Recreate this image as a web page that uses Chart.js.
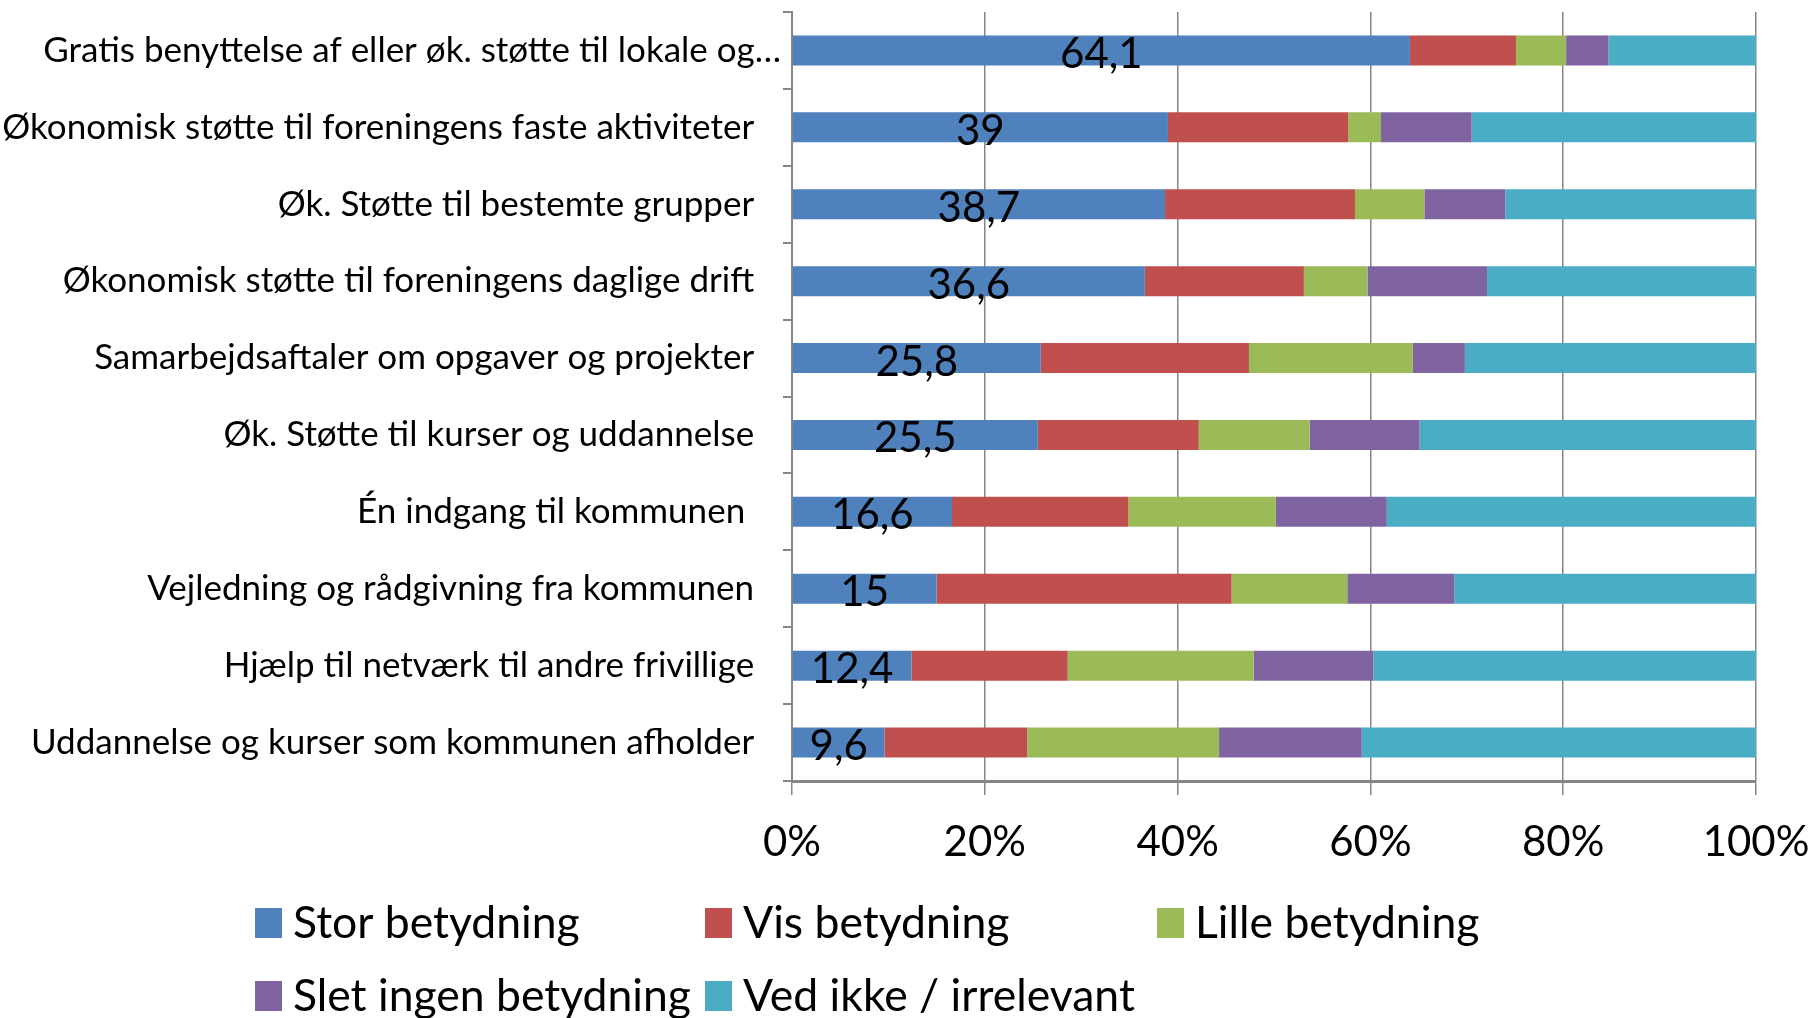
<!DOCTYPE html>
<html>
<head>
<meta charset="utf-8">
<script src="https://cdn.jsdelivr.net/npm/chart.js@4.4.1/dist/chart.umd.min.js"></script>
<style>
    html, body { margin: 0; padding: 0; background: #ffffff; }
    #wrap { width: 1816px; height: 1018px; }
</style>
</head>
<body>
<div id="wrap"><canvas id="canvas-1"></canvas></div>
<script>
var categories = [
    "Gratis benyttelse af eller øk. støtte til lokale og…",
    "Økonomisk støtte til foreningens faste aktiviteter",
    "Øk. Støtte til bestemte grupper",
    "Økonomisk støtte til foreningens daglige drift",
    "Samarbejdsaftaler om opgaver og projekter",
    "Øk. Støtte til kurser og uddannelse",
    "Én indgang til kommunen ",
    "Vejledning og rådgivning fra kommunen",
    "Hjælp til netværk til andre frivillige",
    "Uddannelse og kurser som kommunen afholder"
];
var seriesNames = ["Stor betydning", "Vis betydning", "Lille betydning", "Slet ingen betydning", "Ved ikke / irrelevant"];
var storValues = [64.1, 39, 38.7, 36.6, 25.8, 25.5, 16.6, 15, 12.4, 9.6];
var visValues = [11.0, 18.7, 19.7, 16.5, 21.6, 16.7, 18.3, 30.6, 16.2, 14.8];
var lilleValues = [5.2, 3.4, 7.2, 6.6, 17.0, 11.5, 15.3, 12.0, 19.3, 19.9];
var sletValues = [4.4, 9.4, 8.4, 12.4, 5.4, 11.4, 11.5, 11.1, 12.4, 14.8];
var vedIkkeValues = [15.3, 29.5, 26.0, 27.9, 30.2, 34.9, 38.3, 31.3, 39.7, 40.9];
var xTicks = [0, 20, 40, 60, 80, 100];

(function () {
    'use strict';

    var FONT = "Lato, 'Open Sans', sans-serif";
    var GRID = "#868686";
    var colors = ["#4f81bd", "#c0504d", "#9bbb59", "#8064a2", "#4bacc6"];
    var allValues = [storValues, visValues, lilleValues, sletValues, vedIkkeValues];

    var datasets = [];
    for (var i = 0; i < seriesNames.length; i++) {
        datasets.push({
            label: seriesNames[i],
            data: allValues[i],
            backgroundColor: colors[i],
            borderWidth: 0,
            categoryPercentage: 1,
            barPercentage: 0.39
        });
    }

    // value labels on the blue segment
    var valueLabels = {
        id: 'valueLabels',
        afterDatasetsDraw: function (chart) {
            var ctx = chart.ctx;
            var meta = chart.getDatasetMeta(0);
            ctx.save();
            ctx.font = "42px " + FONT;
            ctx.fillStyle = "#000000";
            ctx.textAlign = "center";
            ctx.textBaseline = "middle";
            meta.data.forEach(function (bar, idx) {
                var txt = String(storValues[idx]).replace('.', ',');
                ctx.fillText(txt, (bar.base + bar.x) / 2, bar.y + 4);
            });
            ctx.restore();
        }
    };

    // legend laid out in a grid like the office chart
    var gridLegend = {
        id: 'gridLegend',
        afterDraw: function (chart) {
            var ctx = chart.ctx;
            var cols = [255, 705, 1157];
            var rows = [923, 996];
            ctx.save();
            ctx.font = "44.5px " + FONT;
            ctx.textAlign = "left";
            ctx.textBaseline = "middle";
            chart.data.datasets.forEach(function (ds, n) {
                var x = cols[n % 3];
                var y = rows[Math.floor(n / 3)];
                ctx.fillStyle = ds.backgroundColor;
                ctx.fillRect(x, y - 15, 27, 30);
                ctx.fillStyle = "#000000";
                ctx.fillText(ds.label, x + 38, y + 1);
            });
            ctx.restore();
        }
    };

    var ctx = document.getElementById('canvas-1');
    //noinspection JSUnusedLocalSymbols
    var chart = new Chart(ctx, {
        type: 'bar',
        data: {
            labels: categories,
            datasets: datasets
        },
        options: {
            indexAxis: 'y',
            responsive: true,
            maintainAspectRatio: false,
            animation: false,
            layout: {
                padding: {top: 12, right: 60, bottom: 0, left: 0}
            },
            plugins: {
                legend: {display: false},
                tooltip: {enabled: false}
            },
            scales: {
                x: {
                    stacked: true,
                    min: 0,
                    max: 100,
                    afterFit: function (scale) {
                        scale.height = 237;
                        scale.paddingLeft = 0;
                        scale.paddingRight = 0;
                    },
                    afterBuildTicks: function (scale) {
                        scale.ticks = xTicks.map(function (v) {
                            return {value: v};
                        });
                    },
                    ticks: {
                        color: "#000000",
                        font: {family: FONT, size: 42},
                        padding: 22,
                        maxRotation: 0,
                        callback: function (value) {
                            return value + '%';
                        }
                    },
                    grid: {
                        color: GRID,
                        lineWidth: 1.5,
                        tickLength: 14
                    },
                    border: {color: GRID, width: 3}
                },
                y: {
                    stacked: true,
                    afterFit: function (scale) {
                        scale.width = 792;
                        scale.paddingTop = 0;
                        scale.paddingBottom = 0;
                    },
                    ticks: {
                        color: "#000000",
                        font: {family: FONT, size: 35},
                        padding: 2,
                        autoSkip: false,
                        callback: function (value) {
                            var lbl = categories[value];
                            return lbl.slice(-1) === '…' ? lbl : lbl + '   ';
                        }
                    },
                    grid: {
                        drawOnChartArea: false,
                        color: GRID,
                        lineWidth: 2,
                        tickLength: 9
                    },
                    border: {color: GRID, width: 2}
                }
            }
        },
        plugins: [valueLabels, gridLegend]
    });
})();
</script>
</body>
</html>
